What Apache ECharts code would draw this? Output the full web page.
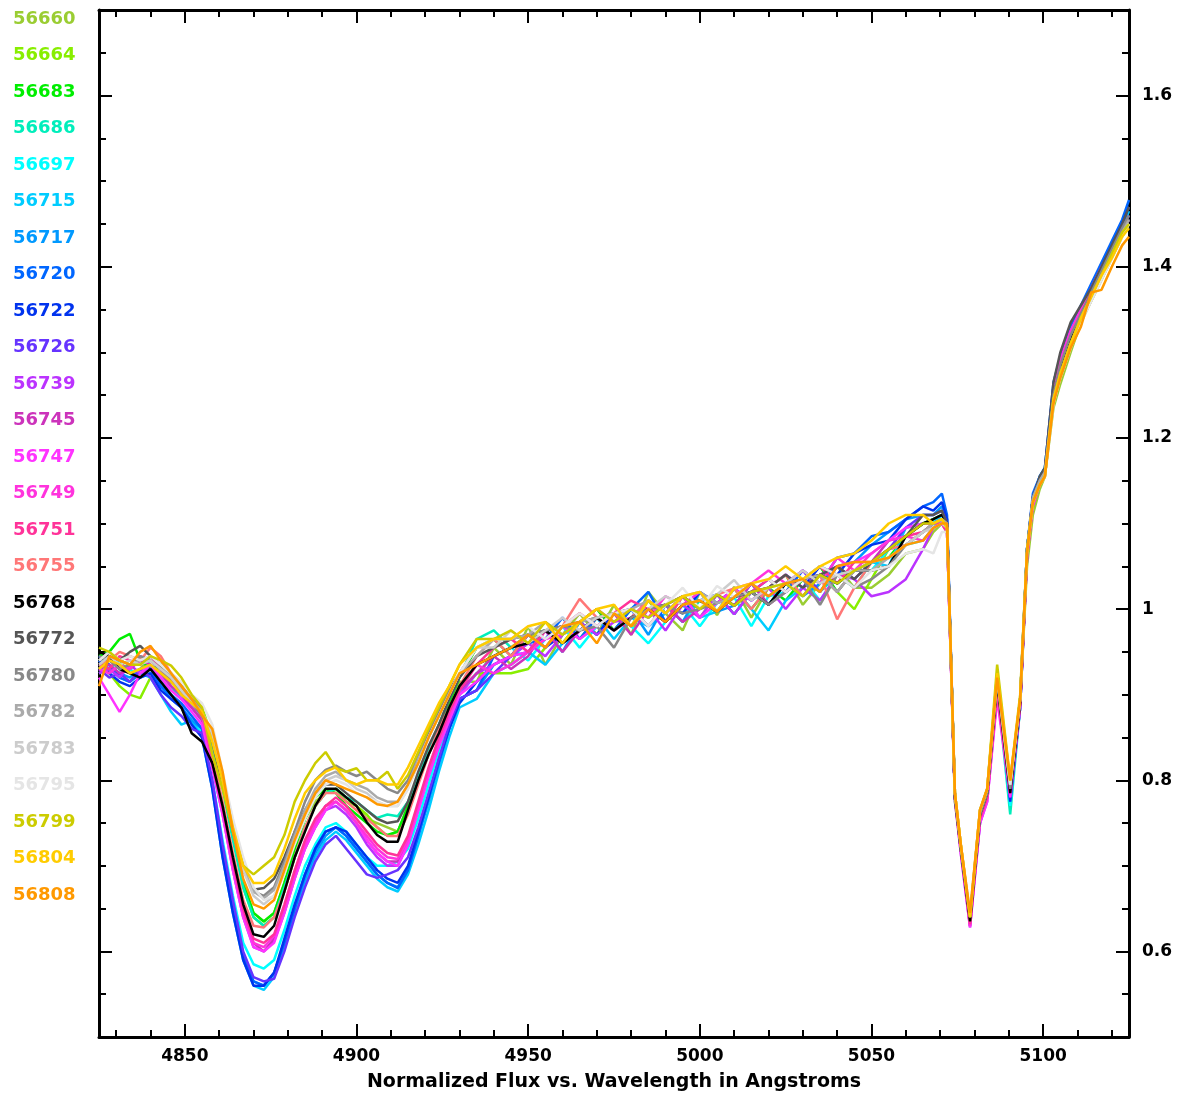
<!DOCTYPE html>
<html>
<head>
<meta charset="utf-8">
<title>Normalized Flux vs. Wavelength</title>
<script src="https://cdn.jsdelivr.net/npm/echarts/dist/echarts.min.js"></script>
<style>
html, body { margin: 0; padding: 0; background: #fff; }
#chart { width: 1177px; height: 1097px; }
</style>
</head>
<body>
<div id="chart"></div>
<script>
// wavelength grid (Angstroms): blue wing, H-beta core, continuum, red features
var xLeft = [4825,4828,4831,4834,4837,4840,4843,4846,4849,4852,4855];
var xCore = [4858,4861,4864,4867,4870,4873,4876,4879,4882,4885,4888,4891,4894,4897,4900,4903,4906,4909,4912,4915,4918,4921,4924,4927,4930];
var xCont = [4935,4940,4945,4950,4955,4960,4965,4970,4975,4980,4985,4990,4995,5000,5005,5010,5015,5020,5025,5030,5035,5040,5045,5050,5055,5060,5065];
var xRed  = [5068,5070.5,5072,5074.3,5076,5078.7,5081.6,5083.7,5086.6,5090.4,5093.3,5095.3,5097,5099,5100.5,5103,5105,5108,5111,5114,5117,5120,5123,5125];
var wavelength = xLeft.concat(xCore, xCont, xRed);

var epochs = ['56660','56664','56683','56686','56697','56715','56717','56720','56722','56726','56739','56745','56747','56749','56751','56755','56768','56772','56780','56782','56783','56795','56799','56804','56808'];
var lineColors = ['#9acd32','#88ee00','#00ee00','#00eebb','#00ffff','#00ccff','#0099ff','#0066ff','#0033ee','#6633ff','#bb33ff','#cc33bb','#ff33ff','#ff33dd','#ff3399','#ff7777','#000000','#555555','#888888','#aaaaaa','#cccccc','#e5e5e5','#cccc00','#ffcc00','#ff9900'];

var f56660 = [0.93,0.945,0.94,0.925,0.93,0.945,0.935,0.92,0.90,0.895,0.88,
  0.845,0.795,0.735,0.68,0.645,0.635,0.645,0.68,0.72,0.755,0.775,0.785,0.79,0.775,0.77,0.755,0.75,0.745,0.74,0.77,0.805,0.835,0.865,0.89,0.915,
  0.915,0.955,0.935,0.98,0.935,0.97,0.995,0.97,1.005,0.97,1.02,0.995,0.975,1.02,0.993,1.026,0.99,1.025,1.04,1.005,1.03,1.05,1.025,1.025,1.04,1.065,1.07,
  1.09,1.10,1.09,0.785,0.725,0.64,0.765,0.79,0.925,0.795,0.89,1.05,1.11,1.14,1.155,1.235,1.263,1.30,1.335,1.36,1.385,1.41,1.435,1.45];
var f56664 = [0.94,0.925,0.91,0.90,0.896,0.92,0.935,0.925,0.91,0.895,0.885,
  0.85,0.80,0.735,0.675,0.64,0.63,0.64,0.67,0.71,0.745,0.77,0.785,0.79,0.78,0.77,0.76,0.745,0.735,0.74,0.765,0.80,0.83,0.86,0.885,0.905,
  0.925,0.925,0.925,0.93,0.955,0.98,0.965,0.99,0.995,0.98,1.01,0.985,1.015,0.99,1.017,0.994,1.02,1.005,1.03,1.015,1.04,1.02,1.0,1.035,1.07,1.085,1.10,
  1.10,1.105,1.095,0.78,0.72,0.635,0.76,0.785,0.915,0.79,0.89,1.06,1.12,1.145,1.16,1.245,1.275,1.31,1.34,1.365,1.39,1.415,1.44,1.455];
var f56683 = [0.945,0.95,0.965,0.971,0.94,0.93,0.935,0.915,0.905,0.89,0.88,
  0.845,0.795,0.735,0.68,0.645,0.635,0.645,0.68,0.72,0.755,0.78,0.79,0.785,0.77,0.76,0.75,0.74,0.736,0.74,0.77,0.805,0.835,0.86,0.89,0.92,
  0.955,0.965,0.945,0.97,0.975,0.96,0.985,1.0,0.975,1.0,0.98,1.005,0.995,1.01,0.997,1.024,1.0,1.025,1.01,1.035,1.05,1.02,1.045,1.055,1.06,1.085,1.10,
  1.105,1.11,1.10,0.775,0.72,0.635,0.755,0.78,0.915,0.785,0.895,1.065,1.125,1.15,1.16,1.25,1.28,1.31,1.34,1.365,1.39,1.415,1.44,1.45];
var f56686 = [0.925,0.93,0.94,0.935,0.945,0.935,0.925,0.91,0.895,0.885,0.87,
  0.84,0.79,0.73,0.675,0.64,0.63,0.64,0.675,0.71,0.745,0.77,0.785,0.79,0.78,0.775,0.765,0.756,0.76,0.758,0.775,0.805,0.835,0.865,0.895,0.92,
  0.965,0.975,0.955,0.97,0.955,0.98,0.965,0.98,0.995,1.0,0.99,1.005,0.985,1.01,0.997,1.014,1.02,1.005,1.03,1.035,1.02,1.04,1.025,1.055,1.06,1.075,1.09,
  1.10,1.11,1.10,0.78,0.72,0.64,0.76,0.785,0.91,0.76,0.885,1.065,1.13,1.15,1.16,1.245,1.28,1.315,1.345,1.37,1.395,1.42,1.44,1.455];
var f56697 = [0.93,0.935,0.925,0.93,0.92,0.925,0.915,0.90,0.885,0.87,0.855,
  0.80,0.73,0.665,0.61,0.585,0.58,0.59,0.625,0.665,0.70,0.725,0.745,0.75,0.74,0.725,0.71,0.70,0.70,0.705,0.72,0.755,0.795,0.835,0.87,0.90,
  0.925,0.945,0.955,0.94,0.965,0.98,0.955,0.98,0.995,0.98,0.96,0.985,1.005,0.98,1.007,1.014,0.98,1.015,1.02,1.035,1.01,1.04,1.045,1.045,1.07,1.075,1.08,
  1.095,1.105,1.095,0.78,0.72,0.635,0.755,0.78,0.91,0.77,0.89,1.065,1.125,1.15,1.16,1.25,1.28,1.315,1.34,1.37,1.39,1.415,1.44,1.455];
var f56715 = [0.94,0.93,0.92,0.915,0.925,0.92,0.90,0.88,0.865,0.87,0.85,
  0.79,0.71,0.645,0.59,0.56,0.555,0.57,0.605,0.645,0.68,0.71,0.73,0.74,0.73,0.715,0.70,0.685,0.675,0.67,0.69,0.725,0.765,0.81,0.85,0.885,
  0.895,0.925,0.935,0.95,0.935,0.96,0.975,0.99,0.965,0.99,0.98,0.995,1.015,0.99,0.997,1.024,1.0,0.975,1.01,1.025,1.04,1.03,1.045,1.055,1.05,1.095,1.10,
  1.10,1.11,1.10,0.78,0.72,0.635,0.755,0.785,0.915,0.775,0.885,1.065,1.13,1.15,1.16,1.255,1.285,1.32,1.345,1.37,1.395,1.42,1.445,1.465];
var f56717 = [0.935,0.93,0.925,0.92,0.93,0.935,0.91,0.895,0.885,0.87,0.86,
  0.795,0.715,0.65,0.595,0.565,0.56,0.575,0.61,0.65,0.685,0.715,0.735,0.745,0.735,0.72,0.705,0.69,0.68,0.675,0.695,0.735,0.775,0.82,0.86,0.895,
  0.905,0.935,0.945,0.96,0.975,0.95,0.985,0.97,0.995,1.0,0.97,1.005,0.985,1.02,0.997,1.004,1.03,1.005,1.03,1.015,1.03,1.05,1.055,1.075,1.09,1.105,1.11,
  1.11,1.12,1.105,0.78,0.72,0.635,0.755,0.785,0.915,0.78,0.89,1.07,1.13,1.155,1.165,1.26,1.29,1.325,1.35,1.375,1.40,1.425,1.45,1.47];
var f56720 = [0.945,0.935,0.92,0.915,0.925,0.93,0.91,0.90,0.89,0.875,0.86,
  0.795,0.715,0.65,0.595,0.565,0.56,0.575,0.61,0.65,0.69,0.72,0.74,0.745,0.735,0.72,0.705,0.69,0.68,0.674,0.695,0.735,0.78,0.82,0.86,0.895,
  0.905,0.945,0.955,0.96,0.965,0.99,0.965,0.99,0.975,1.0,1.02,0.985,1.005,1.01,1.017,0.994,1.02,1.035,1.02,1.045,1.03,1.06,1.065,1.085,1.09,1.105,1.12,
  1.125,1.135,1.11,0.78,0.72,0.635,0.755,0.785,0.915,0.78,0.89,1.07,1.135,1.155,1.165,1.265,1.295,1.33,1.355,1.38,1.405,1.43,1.455,1.478];
var f56722 = [0.94,0.925,0.915,0.91,0.92,0.925,0.905,0.895,0.885,0.865,0.85,
  0.79,0.71,0.645,0.59,0.56,0.56,0.575,0.615,0.655,0.69,0.72,0.74,0.745,0.74,0.725,0.71,0.695,0.685,0.68,0.70,0.74,0.78,0.825,0.86,0.89,
  0.915,0.935,0.945,0.97,0.955,0.97,0.985,0.97,0.995,0.98,1.0,1.005,0.995,1.02,1.007,1.024,1.01,1.025,1.04,1.025,1.05,1.04,1.065,1.075,1.08,1.105,1.12,
  1.115,1.125,1.105,0.78,0.72,0.635,0.755,0.78,0.91,0.775,0.885,1.07,1.13,1.15,1.16,1.26,1.29,1.325,1.35,1.375,1.40,1.425,1.45,1.47];
var f56726 = [0.93,0.92,0.925,0.915,0.93,0.92,0.90,0.885,0.875,0.86,0.855,
  0.80,0.725,0.66,0.60,0.57,0.565,0.568,0.60,0.64,0.675,0.705,0.725,0.735,0.72,0.705,0.69,0.686,0.69,0.695,0.71,0.745,0.785,0.825,0.865,0.895,
  0.905,0.925,0.945,0.95,0.975,0.96,0.975,0.99,0.975,0.99,1.01,0.995,1.015,1.0,1.017,1.004,1.03,1.015,1.03,1.045,1.02,1.05,1.035,1.055,1.07,1.095,1.11,
  1.11,1.115,1.10,0.78,0.72,0.635,0.75,0.78,0.905,0.78,0.89,1.065,1.13,1.15,1.16,1.26,1.295,1.325,1.345,1.37,1.395,1.42,1.445,1.46];
var f56739 = [0.925,0.93,0.92,0.935,0.925,0.93,0.92,0.905,0.895,0.885,0.87,
  0.815,0.76,0.695,0.64,0.605,0.60,0.612,0.645,0.685,0.72,0.745,0.765,0.77,0.76,0.745,0.725,0.71,0.70,0.70,0.725,0.765,0.805,0.84,0.87,0.90,
  0.925,0.935,0.945,0.96,0.945,0.97,0.985,0.97,0.985,0.99,1.0,0.975,1.005,0.99,1.017,0.994,1.02,1.025,1.0,1.025,1.01,1.04,1.035,1.015,1.02,1.035,1.07,
  1.095,1.10,1.09,0.78,0.715,0.628,0.75,0.775,0.90,0.785,0.885,1.06,1.125,1.145,1.155,1.245,1.275,1.31,1.34,1.365,1.39,1.415,1.44,1.455];
var f56745 = [0.93,0.935,0.925,0.93,0.94,0.935,0.925,0.91,0.90,0.885,0.87,
  0.82,0.765,0.70,0.645,0.61,0.60,0.615,0.65,0.69,0.725,0.75,0.77,0.775,0.765,0.75,0.73,0.715,0.705,0.705,0.73,0.77,0.81,0.845,0.875,0.905,
  0.925,0.945,0.93,0.945,0.975,0.95,0.975,0.99,0.995,0.97,1.0,1.005,0.985,1.0,1.017,1.004,1.03,1.005,1.02,1.035,1.04,1.02,1.045,1.055,1.08,1.085,1.10,
  1.10,1.105,1.095,0.78,0.72,0.63,0.755,0.78,0.905,0.785,0.89,1.065,1.125,1.15,1.16,1.25,1.285,1.32,1.345,1.37,1.395,1.42,1.445,1.455];
var f56747 = [0.92,0.90,0.88,0.90,0.925,0.935,0.92,0.905,0.895,0.88,0.865,
  0.815,0.76,0.695,0.64,0.605,0.60,0.61,0.645,0.685,0.72,0.745,0.765,0.775,0.765,0.75,0.73,0.715,0.705,0.70,0.725,0.765,0.805,0.84,0.87,0.90,
  0.915,0.935,0.945,0.95,0.965,0.98,0.965,0.98,0.995,1.0,0.98,1.005,1.015,0.99,1.007,1.024,1.01,1.025,1.04,1.025,1.04,1.05,1.055,1.065,1.08,1.095,1.10,
  1.10,1.105,1.09,0.775,0.715,0.628,0.75,0.775,0.895,0.78,0.885,1.065,1.125,1.15,1.16,1.255,1.29,1.325,1.35,1.37,1.395,1.42,1.44,1.455];
var f56749 = [0.93,0.925,0.935,0.93,0.945,0.94,0.93,0.915,0.905,0.89,0.875,
  0.82,0.765,0.70,0.645,0.61,0.605,0.618,0.65,0.69,0.725,0.75,0.77,0.775,0.765,0.75,0.735,0.72,0.71,0.708,0.73,0.77,0.81,0.845,0.875,0.905,
  0.935,0.925,0.935,0.95,0.965,0.97,0.985,1.0,0.985,1.0,0.99,1.015,1.005,1.02,0.997,1.024,1.03,1.045,1.03,1.045,1.03,1.06,1.045,1.065,1.08,1.085,1.08,
  1.095,1.10,1.09,0.78,0.72,0.63,0.755,0.78,0.90,0.785,0.89,1.06,1.12,1.145,1.16,1.255,1.29,1.325,1.35,1.375,1.40,1.42,1.445,1.455];
var f56751 = [0.935,0.93,0.945,0.94,0.935,0.945,0.93,0.92,0.905,0.895,0.88,
  0.825,0.77,0.705,0.65,0.615,0.61,0.62,0.655,0.695,0.73,0.755,0.77,0.78,0.77,0.755,0.74,0.725,0.715,0.712,0.735,0.775,0.815,0.85,0.88,0.905,
  0.935,0.955,0.965,0.95,0.975,0.98,0.995,0.98,0.995,1.01,1.0,0.985,1.015,1.0,1.017,1.004,1.02,1.035,1.02,1.035,1.05,1.03,1.055,1.055,1.07,1.085,1.09,
  1.10,1.10,1.09,0.78,0.72,0.632,0.755,0.78,0.905,0.785,0.89,1.06,1.125,1.145,1.16,1.25,1.28,1.315,1.345,1.37,1.395,1.42,1.445,1.45];
var f56755 = [0.935,0.94,0.95,0.945,0.94,0.955,0.945,0.925,0.91,0.895,0.88,
  0.83,0.775,0.715,0.66,0.63,0.628,0.64,0.67,0.71,0.745,0.77,0.785,0.785,0.775,0.765,0.755,0.745,0.735,0.735,0.76,0.795,0.83,0.86,0.885,0.91,
  0.945,0.965,0.945,0.97,0.955,0.98,1.012,0.99,0.975,0.99,1.01,0.995,1.015,1.0,1.017,1.024,1.0,1.025,1.04,1.015,1.04,0.988,1.025,1.055,1.07,1.075,1.09,
  1.10,1.105,1.095,0.78,0.72,0.635,0.76,0.785,0.915,0.79,0.89,1.065,1.125,1.15,1.16,1.25,1.28,1.315,1.34,1.365,1.39,1.415,1.44,1.45];
var f56768 = [0.95,0.945,0.93,0.925,0.92,0.93,0.915,0.90,0.885,0.855,0.845,
  0.82,0.77,0.71,0.655,0.62,0.617,0.63,0.67,0.71,0.74,0.77,0.79,0.79,0.78,0.77,0.751,0.736,0.728,0.728,0.765,0.80,0.83,0.855,0.885,0.91,
  0.935,0.945,0.955,0.96,0.975,0.96,0.975,0.99,0.975,0.99,1.0,0.985,1.005,1.01,0.997,1.014,1.02,1.005,1.03,1.035,1.04,1.03,1.045,1.045,1.05,1.085,1.10,
  1.105,1.11,1.10,0.78,0.72,0.635,0.76,0.785,0.915,0.785,0.89,1.065,1.13,1.15,1.16,1.25,1.28,1.315,1.34,1.37,1.39,1.415,1.44,1.455];
var f56772 = [0.94,0.945,0.94,0.95,0.957,0.945,0.935,0.92,0.91,0.895,0.88,
  0.845,0.795,0.74,0.695,0.672,0.674,0.685,0.71,0.74,0.765,0.785,0.795,0.795,0.785,0.775,0.765,0.755,0.75,0.752,0.775,0.81,0.84,0.865,0.895,0.92,
  0.945,0.955,0.965,0.97,0.975,0.98,0.985,0.99,0.995,0.98,1.0,1.005,1.015,1.0,1.017,1.004,1.02,1.025,1.04,1.025,1.04,1.05,1.035,1.055,1.07,1.085,1.11,
  1.11,1.115,1.10,0.78,0.72,0.64,0.76,0.785,0.915,0.79,0.895,1.07,1.13,1.155,1.165,1.265,1.30,1.335,1.355,1.375,1.40,1.425,1.45,1.47];
var f56780 = [0.945,0.94,0.93,0.935,0.945,0.94,0.93,0.915,0.905,0.89,0.875,
  0.85,0.80,0.745,0.70,0.67,0.665,0.675,0.705,0.74,0.775,0.80,0.812,0.817,0.81,0.805,0.81,0.80,0.79,0.785,0.80,0.83,0.855,0.88,0.905,0.925,
  0.955,0.965,0.965,0.97,0.975,0.98,0.975,0.98,0.955,0.99,1.0,1.005,0.995,1.0,1.007,1.014,1.02,1.005,1.02,1.035,1.005,1.04,1.025,1.035,1.05,1.075,1.09,
  1.10,1.105,1.095,0.78,0.72,0.64,0.76,0.785,0.92,0.79,0.895,1.07,1.13,1.15,1.16,1.25,1.285,1.32,1.345,1.37,1.395,1.42,1.445,1.46];
var f56782 = [0.94,0.95,0.94,0.935,0.94,0.945,0.935,0.92,0.91,0.895,0.88,
  0.85,0.80,0.745,0.70,0.67,0.662,0.672,0.70,0.735,0.765,0.79,0.805,0.81,0.80,0.795,0.79,0.78,0.775,0.775,0.795,0.825,0.85,0.875,0.90,0.925,
  0.945,0.965,0.965,0.97,0.985,0.97,0.985,0.99,0.995,1.0,1.01,0.995,1.015,1.02,1.007,1.014,1.03,1.015,1.03,1.035,1.04,1.02,1.045,1.045,1.06,1.075,1.09,
  1.10,1.105,1.10,0.785,0.725,0.64,0.765,0.79,0.92,0.795,0.895,1.07,1.13,1.15,1.16,1.245,1.275,1.31,1.34,1.365,1.39,1.415,1.44,1.455];
var f56783 = [0.935,0.945,0.935,0.94,0.935,0.94,0.93,0.92,0.905,0.89,0.88,
  0.855,0.80,0.745,0.695,0.665,0.655,0.665,0.695,0.73,0.76,0.785,0.80,0.805,0.80,0.79,0.785,0.775,0.77,0.77,0.79,0.82,0.85,0.875,0.90,0.925,
  0.955,0.955,0.975,0.96,0.975,0.99,0.975,0.99,0.995,0.98,1.0,1.015,1.005,1.01,1.017,1.034,1.01,1.025,1.03,1.045,1.03,1.04,1.045,1.055,1.06,1.075,1.09,
  1.095,1.10,1.095,0.785,0.725,0.645,0.765,0.79,0.92,0.795,0.895,1.065,1.125,1.145,1.155,1.24,1.27,1.305,1.335,1.36,1.385,1.41,1.435,1.45];
var f56795 = [0.94,0.95,0.94,0.945,0.94,0.945,0.935,0.925,0.915,0.90,0.89,
  0.865,0.81,0.755,0.71,0.675,0.66,0.665,0.69,0.725,0.755,0.78,0.795,0.80,0.795,0.785,0.78,0.775,0.77,0.77,0.79,0.82,0.85,0.875,0.90,0.925,
  0.955,0.965,0.965,0.98,0.965,0.98,0.995,0.98,0.995,1.0,0.98,1.005,1.025,1.0,1.027,1.014,1.03,1.035,1.02,1.035,1.05,1.04,1.025,1.045,1.05,1.065,1.07,
  1.065,1.09,1.09,0.785,0.725,0.645,0.765,0.79,0.925,0.795,0.895,1.065,1.125,1.145,1.155,1.24,1.27,1.305,1.335,1.36,1.385,1.41,1.435,1.45];
var f56799 = [0.955,0.95,0.94,0.935,0.935,0.945,0.94,0.934,0.92,0.90,0.885,
  0.83,0.79,0.74,0.70,0.69,0.70,0.71,0.736,0.775,0.80,0.82,0.833,0.814,0.81,0.814,0.80,0.80,0.81,0.79,0.806,0.833,0.86,0.885,0.91,0.935,
  0.965,0.965,0.975,0.96,0.985,0.97,0.985,1.0,0.985,1.0,0.99,1.005,1.015,1.0,1.017,1.004,1.02,1.025,1.03,1.015,1.04,1.03,1.045,1.055,1.07,1.085,1.10,
  1.10,1.105,1.095,0.785,0.725,0.64,0.765,0.79,0.935,0.80,0.90,1.07,1.125,1.145,1.155,1.245,1.275,1.31,1.34,1.365,1.39,1.415,1.44,1.45];
var f56804 = [0.93,0.94,0.935,0.925,0.93,0.935,0.925,0.915,0.90,0.89,0.88,
  0.845,0.80,0.745,0.70,0.68,0.68,0.69,0.72,0.755,0.785,0.80,0.81,0.815,0.80,0.795,0.80,0.80,0.795,0.795,0.815,0.84,0.865,0.89,0.91,0.935,
  0.955,0.965,0.965,0.98,0.985,0.96,0.985,1.0,1.005,0.98,1.01,0.995,1.015,1.02,0.997,1.024,1.03,1.035,1.05,1.035,1.05,1.06,1.065,1.08,1.10,1.11,1.11,
  1.10,1.105,1.095,0.785,0.725,0.64,0.765,0.79,0.925,0.80,0.895,1.065,1.125,1.145,1.155,1.245,1.275,1.31,1.34,1.365,1.39,1.41,1.435,1.445];
var f56808 = [0.91,0.945,0.94,0.935,0.95,0.957,0.94,0.925,0.91,0.895,0.876,
  0.86,0.81,0.74,0.685,0.655,0.65,0.66,0.695,0.73,0.76,0.785,0.80,0.795,0.79,0.785,0.78,0.772,0.77,0.775,0.795,0.82,0.85,0.875,0.90,0.925,
  0.935,0.945,0.955,0.97,0.955,0.98,0.985,0.96,0.995,0.98,1.0,0.985,1.005,1.01,0.997,1.014,1.03,1.015,1.03,1.035,1.02,1.05,1.055,1.055,1.06,1.075,1.08,
  1.095,1.10,1.10,0.785,0.725,0.645,0.765,0.79,0.92,0.80,0.895,1.065,1.125,1.145,1.155,1.24,1.27,1.305,1.33,1.37,1.373,1.40,1.425,1.435];

var fluxes = [f56660,f56664,f56683,f56686,f56697,f56715,f56717,f56720,f56722,f56726,f56739,f56745,f56747,f56749,f56751,f56755,f56768,f56772,f56780,f56782,f56783,f56795,f56799,f56804,f56808];

var fontFam = 'DejaVu Sans';
var axisColor = '#000';

function pairUp(ys) {
    return wavelength.map(function (x, i) { return [x, ys[i]]; });
}

var chart = echarts.init(document.getElementById('chart'));

var frameStyle = { color: axisColor, width: 3 };
var tickStyle = { color: axisColor, width: 2 };
function makeX(pos, labels) {
    return {
        type: 'value',
        position: pos,
        min: 4825,
        max: 5125,
        splitNumber: 5,
        axisLine: { show: true, onZero: false, lineStyle: frameStyle },
        axisTick: { show: true, inside: true, length: 13, lineStyle: tickStyle },
        minorTick: { show: true, splitNumber: 5, length: 7, lineStyle: tickStyle },
        splitLine: { show: false },
        axisLabel: {
            show: labels, showMinLabel: false, showMaxLabel: false, margin: 11,
            color: '#000', fontFamily: fontFam, fontWeight: 'bold', fontSize: 17,
            formatter: function (v) { return String(v); }
        }
    };
}
function makeY(pos, labels) {
    return {
        type: 'value',
        position: pos,
        min: 0.5,
        max: 1.7,
        splitNumber: 5,
        axisLine: { show: true, onZero: false, lineStyle: frameStyle },
        axisTick: { show: true, inside: true, length: 13, lineStyle: tickStyle },
        minorTick: { show: true, splitNumber: 4, length: 7, lineStyle: tickStyle },
        splitLine: { show: false },
        axisLabel: {
            show: labels, showMinLabel: false, showMaxLabel: false, margin: 13,
            color: '#000', fontFamily: fontFam, fontWeight: 'bold', fontSize: 17
        }
    };
}

var xBottom = makeX('bottom', true);
xBottom.name = 'Normalized Flux vs. Wavelength in Angstroms';
xBottom.nameLocation = 'middle';
xBottom.nameGap = 36;
xBottom.nameTextStyle = { color: '#000', fontFamily: fontFam, fontWeight: 'bold', fontSize: 19 };

var option = {
    animation: false,
    backgroundColor: '#fff',
    color: lineColors,
    legend: {
        orient: 'vertical',
        left: 3,
        top: 4,
        itemWidth: 0,
        itemHeight: 20,
        itemGap: 16.5,
        icon: 'rect',
        selectedMode: false,
        textStyle: { fontFamily: fontFam, fontWeight: 'bold', fontSize: 18, lineHeight: 20 },
        data: epochs.map(function (e, i) {
            return { name: e, textStyle: { color: lineColors[i] } };
        })
    },
    grid: { left: 99, right: 48, top: 10, bottom: 56 },
    xAxis: [xBottom, makeX('top', false)],
    yAxis: [makeY('right', true), makeY('left', false)],
    series: epochs.map(function (e, i) {
        return {
            name: e,
            type: 'line',
            xAxisIndex: 0,
            yAxisIndex: 0,
            showSymbol: false,
            symbol: 'none',
            data: pairUp(fluxes[i]),
            lineStyle: { width: 2.5, color: lineColors[i] },
            itemStyle: { color: lineColors[i] }
        };
    })
};
chart.setOption(option);
</script>
</body>
</html>
